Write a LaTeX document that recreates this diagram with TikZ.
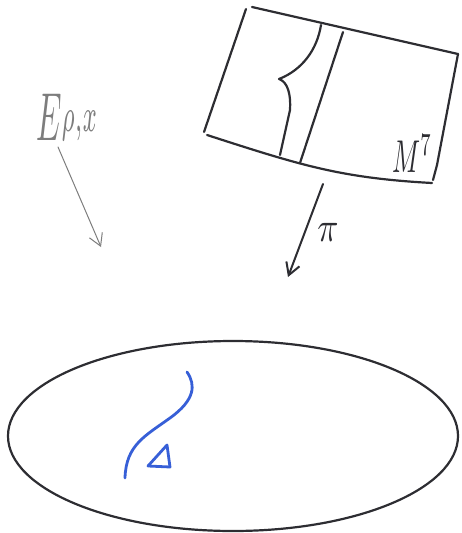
\documentclass[tikz,border=0pt]{standalone}
\usepackage{graphicx}
\usetikzlibrary{arrows.meta,shapes.geometric}
\definecolor{pen}{RGB}{45,45,50}
\definecolor{bluepen}{RGB}{55,95,215}
\definecolor{greypen}{RGB}{125,125,125}
\begin{document}
\begin{tikzpicture}[x=1pt,y=-1pt,
  ink/.style={draw=pen,line width=2.2pt,line cap=round,line join=round},
  blueink/.style={draw=bluepen,line width=2.8pt,line cap=round,line join=round},
  greyink/.style={draw=greypen,line width=1pt,line cap=round},
  openhead/.style={-{Straight Barb[length=12pt,width=14pt]}}]
\useasboundingbox (0,0) rectangle (461,533);
% fibre box M^7
\coordinate (tl) at (246,9);
\coordinate (tlb) at (252,7);
\coordinate (tr) at (458,54);
\coordinate (bl) at (204,132);
\coordinate (blb) at (207,135);
\coordinate (br) at (432,183);
\draw[ink] (tl) -- (bl);
\draw[ink] (tlb) -- (tr);
\draw[ink] (blb) .. controls (300,165) and (340,178) .. (br);
\draw[ink] (tr) -- (437,165) -- (433,180);
% inner curve with cusp
\coordinate (ctop) at (321,25);
\coordinate (cusp) at (279,79);
\coordinate (cbot) at (280,155);
\draw[ink] (ctop) .. controls (317,50) and (302,70) .. (cusp)
  .. controls (288,82) and (291,95) .. (290,110) -- (cbot);
\coordinate (ltop) at (343,32);
\coordinate (lbot) at (300,163);
\draw[ink] (ltop) -- (lbot);
\node[text=pen,inner sep=0pt,anchor=base west] (mlabel) at (392,172) {\scalebox{2.6}[4.6]{$M^7$}};
% projection arrow
\coordinate (pistart) at (323,184);
\coordinate (piend) at (288,277);
\draw[ink,openhead,line width=2pt] (pistart) -- (piend);
\node[text=pen,inner sep=0pt] (pilabel) at (328,232) {\scalebox{3.5}[4.2]{$\pi$}};
% E label and arrow
\node[text=greypen,inner sep=0pt,anchor=base west] (elabel) at (36,140) {\scalebox{3.2}[6.8]{$E\raisebox{1.3pt}{$\scriptstyle\rho,x$}$}};
\coordinate (estart) at (58,147);
\coordinate (eend) at (101,247);
\draw[greyink,openhead] (estart) -- (eend);
% base ellipse
\node[ellipse,draw=pen,line width=2.2pt,inner sep=0pt,minimum width=450pt,minimum height=190pt] (base) at (233,436) {};
% blue curve and triangle
\coordinate (bstart) at (187,372);
\coordinate (bend) at (125,478);
\draw[blueink] (bstart) .. controls (196,385) and (195,400) .. (170,418)
  .. controls (145,436) and (126,445) .. (bend);
\coordinate (ta) at (167,445);
\coordinate (tb) at (148,466);
\coordinate (tc) at (170,467);
\draw[blueink] (ta) -- (tb) -- (tc) -- cycle;
\end{tikzpicture}
\end{document}
